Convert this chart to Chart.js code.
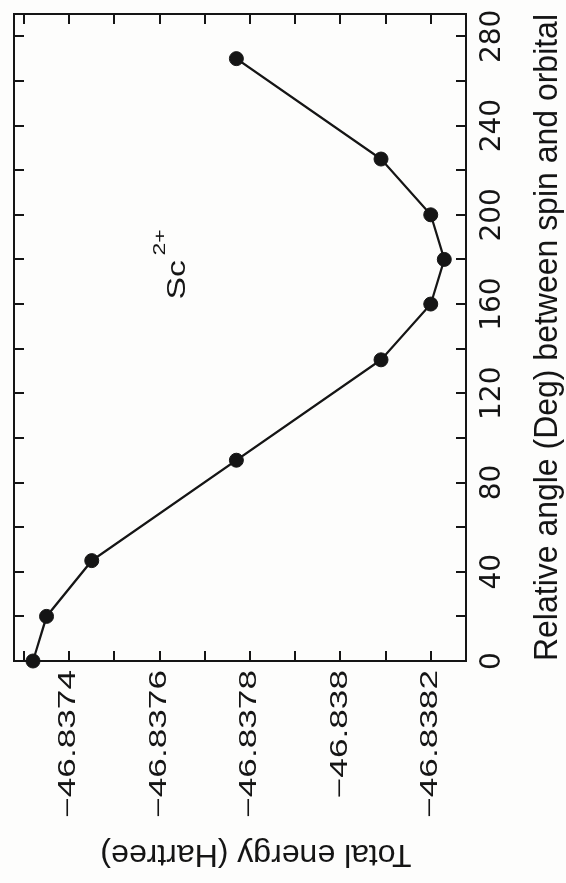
<!DOCTYPE html>
<html>
<head>
<meta charset="utf-8">
<script src="https://cdn.jsdelivr.net/npm/chart.js@4.4.1/dist/chart.umd.min.js"></script>
<style>
  html, body { margin: 0; padding: 0; background: #fdfdfc; overflow: hidden; width: 566px; height: 883px; }
  #wrap { position: absolute; left: 0; top: 0; width: 883px; height: 566px;
          transform-origin: 0 0; transform: translate(0, 883px) rotate(-90deg); }
  canvas { display: block; }
</style>
</head>
<body>
<div id="wrap"><canvas id="c" width="883" height="566"></canvas></div>
<script>
// ---- data ----
const angles   = [0, 20, 45, 90, 135, 160, 180, 200, 225, 270];
const energies = [-46.83732, -46.83735, -46.83745, -46.83777, -46.83809,
                  -46.83820, -46.83823, -46.83820, -46.83809, -46.83777];

const angleTicks      = [0, 20, 40, 60, 80, 100, 120, 140, 160, 180, 200, 220, 240, 260, 280];
const angleTickLabels = ['0', '', '40', '', '80', '', '120', '', '160', '', '200', '', '240', '', '280'];
const energyTicks      = [-46.8382, -46.8381, -46.838, -46.8379, -46.8378,
                          -46.8377, -46.8376, -46.8375, -46.8374, -46.8373];
const energyTickLabels = ['\u221246.8382', '', '\u221246.838', '', '\u221246.8378',
                          '', '\u221246.8376', '', '\u221246.8374', ''];
const angleRange  = [0, 290];
const energyRange = [-46.838278, -46.837278];

const xTitle = 'Relative angle (Deg) between spin and orbital';
const yTitle = 'Total energy (Hartree)';
const ionLabel  = 'Sc';
const ionCharge = '2+';
const ionLabelAt = [162, -46.837656];

// ---- styling ----
const INK = '#151515';
const TICK_FONT = '"DejaVu Sans", sans-serif';
const SANS = '"Liberation Sans", Arial, sans-serif';

function lookup(ticks, labels, value) {
  const i = ticks.findIndex(t => Math.abs(t - value) < 1e-9);
  return i >= 0 ? labels[i] : '';
}
const gridOpts = { drawOnChartArea: false, drawTicks: true, tickLength: -10, color: INK, lineWidth: 2 };
const borderOpts = { display: true, color: INK, width: 2 };
function noPad(s) { s.paddingLeft = 0; s.paddingRight = 0; s.paddingTop = 0; s.paddingBottom = 0; }

// text the reference sets in a wide face: energy tick labels, y title, ion label
const textPlugin = {
  id: 'wideText',
  afterDraw(chart) {
    const ctx = chart.ctx;
    const ys = chart.scales.y, xs = chart.scales.x;
    ctx.save();
    ctx.fillStyle = INK;

    // energy tick labels, placed from the y scale's own ticks
    ctx.font = '23px ' + SANS;
    ctx.textAlign = 'right';
    ctx.textBaseline = 'middle';
    ys.ticks.forEach(t => {
      const lbl = lookup(energyTicks, energyTickLabels, t.value);
      if (!lbl) return;
      const p = ys.getPixelForValue(t.value);
      ctx.save();
      ctx.translate(ys.right - 9, p);
      ctx.scale(1.53, 1);
      ctx.fillText(lbl, 0, 0);
      ctx.restore();
    });

    // y-axis title
    ctx.save();
    ctx.font = '32px ' + SANS;
    ctx.textAlign = 'center';
    ctx.textBaseline = 'alphabetic';
    ctx.translate(38, (ys.top + ys.bottom) / 2 + 16);
    ctx.rotate(-Math.PI / 2);
    ctx.fillText(yTitle, 0, 0);
    ctx.restore();

    // Sc2+ label
    const px = xs.getPixelForValue(ionLabelAt[0]);
    const py = ys.getPixelForValue(ionLabelAt[1]);
    ctx.textAlign = 'left';
    ctx.textBaseline = 'alphabetic';
    ctx.save();
    ctx.translate(px, py);
    ctx.scale(1.3, 1);
    ctx.font = '26px ' + SANS;
    ctx.fillText(ionLabel, 0, 0);
    ctx.restore();
    ctx.save();
    ctx.translate(px + 44, py - 20);
    ctx.scale(1.35, 1);
    ctx.font = '17px ' + SANS;
    ctx.fillText(ionCharge, 0, 0);
    ctx.restore();

    ctx.restore();
  }
};

new Chart(document.getElementById('c'), {
  type: 'scatter',
  data: {
    datasets: [{
      data: angles.map((a, i) => ({ x: a, y: energies[i] })),
      showLine: true,
      borderColor: INK,
      borderWidth: 2.3,
      backgroundColor: INK,
      pointRadius: 7,
      pointBackgroundColor: INK,
      pointBorderColor: INK,
      pointBorderWidth: 1,
      clip: false
    }]
  },
  options: {
    responsive: false,
    animation: false,
    devicePixelRatio: 1,
    layout: { padding: { top: 14, right: 14, left: 0, bottom: 0 } },
    plugins: { legend: { display: false }, tooltip: { enabled: false } },
    scales: {
      x: {
        type: 'linear', position: 'bottom',
        min: angleRange[0], max: angleRange[1],
        afterBuildTicks: s => { s.ticks = angleTicks.map(v => ({ value: v })); },
        ticks: {
          autoSkip: false, maxRotation: 0, minRotation: 0, padding: 20,
          color: INK, font: { family: TICK_FONT, size: 28 },
          callback: v => lookup(angleTicks, angleTickLabels, v)
        },
        grid: gridOpts, border: borderOpts,
        title: { display: true, text: xTitle, color: INK,
                 font: { family: SANS, size: 33 }, padding: { top: 0, bottom: -2 } },
        afterFit: s => { s.height = 100; noPad(s); }
      },
      x2: {
        type: 'linear', position: 'top', axis: 'x',
        min: angleRange[0], max: angleRange[1],
        afterBuildTicks: s => { s.ticks = angleTicks.map(v => ({ value: v })); },
        ticks: { display: false },
        grid: gridOpts, border: borderOpts,
        afterFit: s => { s.height = 0; noPad(s); }
      },
      y: {
        type: 'linear', position: 'left',
        min: energyRange[0], max: energyRange[1],
        afterBuildTicks: s => { s.ticks = energyTicks.map(v => ({ value: v })); },
        ticks: { display: false },
        grid: gridOpts, border: borderOpts,
        afterFit: s => { s.width = 222; noPad(s); }
      },
      y2: {
        type: 'linear', position: 'right', axis: 'y',
        min: energyRange[0], max: energyRange[1],
        afterBuildTicks: s => { s.ticks = energyTicks.map(v => ({ value: v })); },
        ticks: { display: false },
        grid: gridOpts, border: borderOpts,
        afterFit: s => { s.width = 0; noPad(s); }
      }
    }
  },
  plugins: [textPlugin]
});
</script>
</body>
</html>
